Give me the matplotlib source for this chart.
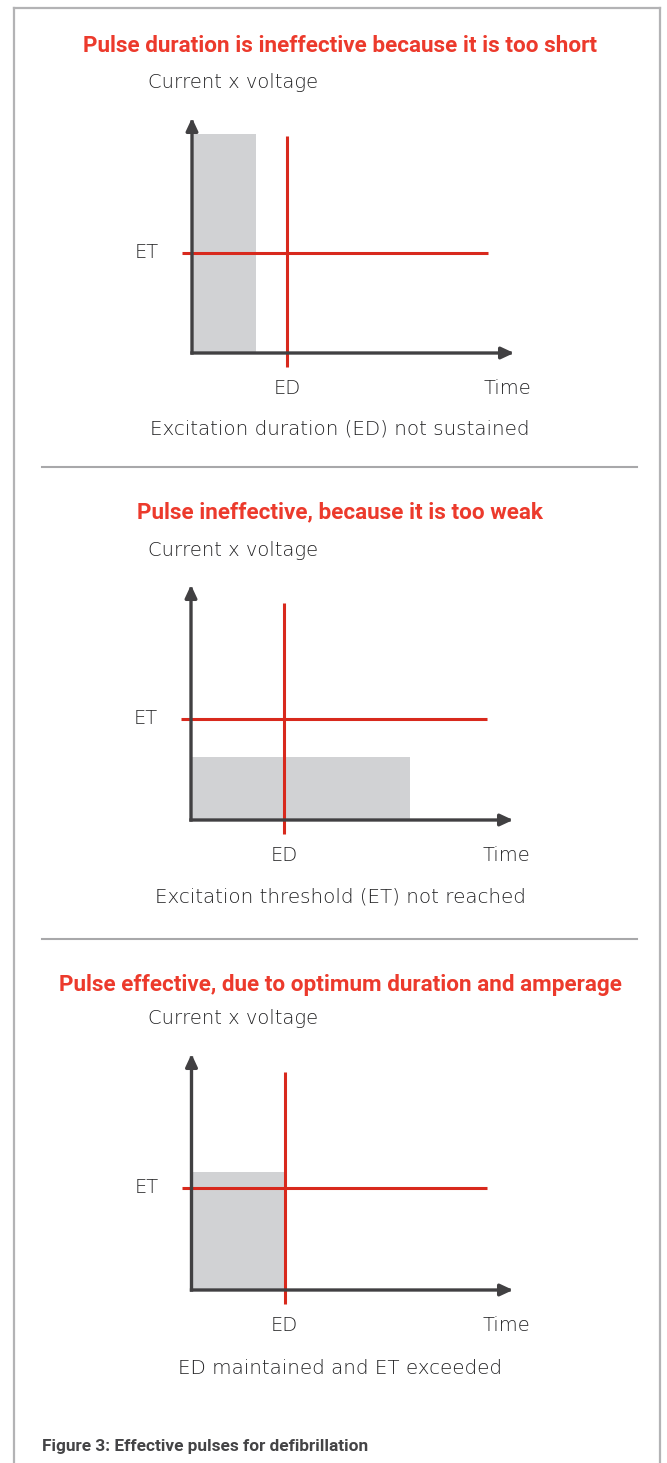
import matplotlib
matplotlib.use("Agg")
import matplotlib.pyplot as plt
from matplotlib.lines import Line2D

# picture size in pixels
W, H = 667, 1463

# panel texts
titles = ["Pulse duration is ineffective because it is too short",
          "Pulse ineffective, because it is too weak",
          "Pulse effective, due to optimum duration and amperage"]
captions = ["Excitation duration (ED) not sustained",
            "Excitation threshold (ET) not reached",
            "ED maintained and ET exceeded"]
y_label = "Current x voltage"
x_label = "Time"
figure_note = "Figure 3: Effective pulses for defibrillation"

# pulse data (time and amplitude on a 0-10 scale)
pulse_duration = [2.0, 6.8, 2.9]
pulse_amplitude = [9.3, 2.7, 5.0]
ed_value = [2.95, 2.9, 2.9]
et_value = [4.26, 4.3, 4.34]

RED = "#d8291d"
TITLE_RED = "#ec3a2c"
GRAY_FILL = "#d1d2d4"
AXIS = "#414042"
TEXT = "#222224"
FRAME = "#b3b3b5"
BODY = dict(family=["DejaVu Sans"], fontweight="light", color=TEXT)
HEAD = dict(family=["Roboto", "DejaVu Sans"], fontweight="bold")

# pixel layout for each panel: x-axis y, arrow tip y, y-axis x, arrow tip x
panels = [(353, 118, 192, 514),
          (820, 585, 191, 513),
          (1290, 1054, 191.5, 513)]
title_y = [46, 512, 985]
ylab_y = [83, 550, 1019]
caption_y = [429, 897, 1369]


def fx(x):
    return x / W


def fy(y):
    return 1 - y / H


fig = plt.figure(figsize=(W / 100, H / 100), dpi=100)
fig.patch.set_facecolor("white")

# outer frame and separators
fig.add_artist(Line2D([fx(14), fx(14)], [fy(8), fy(H + 5)], color=FRAME, lw=1.6))
fig.add_artist(Line2D([fx(14), fx(660)], [fy(8), fy(8)], color=FRAME, lw=1.6))
fig.add_artist(Line2D([fx(660), fx(660)], [fy(8), fy(H + 5)], color=FRAME, lw=1.6))
for sy in [467, 939]:
    fig.add_artist(Line2D([fx(42), fx(637)], [fy(sy), fy(sy)], color="#a8a8aa", lw=1.5))

for i, (y0, ytop, x0, x1) in enumerate(panels):
    ax = fig.add_axes([fx(x0), fy(y0), fx(x1) - fx(x0), fy(ytop) - fy(y0)])
    ax.set_xlim(0, 10)
    ax.set_ylim(0, 10)
    ax.axis("off")

    ax.bar(0, pulse_amplitude[i], width=pulse_duration[i], align="edge",
           color=GRAY_FILL, edgecolor="none", zorder=1)

    ax.plot([ed_value[i], ed_value[i]], [-0.6, 9.25], color=RED, lw=2.2,
            clip_on=False, zorder=3, solid_capstyle="butt")
    ax.plot([-0.3, 9.2], [et_value[i], et_value[i]], color=RED, lw=2.2,
            clip_on=False, zorder=3, solid_capstyle="butt")

    # axes with arrow heads
    arrow = dict(arrowstyle="-|>,head_length=0.75,head_width=0.35", color=AXIS,
                 lw=2.4, shrinkA=0, shrinkB=0, capstyle="projecting")
    ax.annotate("", xy=(10, 0), xytext=(0, 0), arrowprops=arrow,
                annotation_clip=False, zorder=4)
    ax.annotate("", xy=(0, 10), xytext=(0, 0), arrowprops=arrow,
                annotation_clip=False, zorder=4)

    ax.text(-1.4, et_value[i], "ET", ha="center", va="center", fontsize=14,
            clip_on=False, **BODY)
    ax.text(ed_value[i], -1.5, "ED", ha="center", va="center", fontsize=14,
            clip_on=False, **BODY)
    ax.text(9.8, -1.5, x_label, ha="center", va="center", fontsize=14,
            clip_on=False, **BODY)

    fig.text(fx(340), fy(title_y[i]), titles[i], ha="center", va="center",
             fontsize=16.2, color=TITLE_RED, **HEAD)
    fig.text(fx(148), fy(ylab_y[i]), y_label, ha="left", va="center",
             fontsize=14, **BODY)
    fig.text(fx(340), fy(caption_y[i]), captions[i], ha="center", va="center",
             fontsize=14.3, **BODY)

fig.text(fx(42), fy(1446), figure_note, ha="left", va="center", fontsize=12.4,
         color="#444446", **HEAD)

fig.savefig("out.png", dpi=100)
